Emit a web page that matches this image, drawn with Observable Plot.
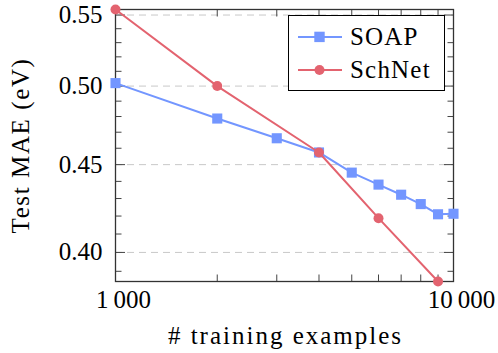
<!DOCTYPE html>
<html><head><meta charset="utf-8">
<script src="https://cdn.jsdelivr.net/npm/d3@7"></script>
<script src="https://cdn.jsdelivr.net/npm/@observablehq/plot@0.6"></script>
<style>
html,body{margin:0;padding:0;background:#fff;}
#wrap{position:relative;width:498px;height:353px;font-family:"Liberation Serif",serif;}
#legend{position:absolute;left:288px;top:15px;width:155px;height:74px;border:1.2px solid #000;background:#fff;}
.row{position:absolute;left:0;height:30px;display:flex;align-items:center;font-size:25px;color:#000;letter-spacing:1.2px;}
.row svg{margin-left:9px;margin-right:8px;}
</style></head><body><div id="wrap"></div>
<script>
const seriesNames = ["SOAP", "SchNet"];
const seriesColors = ["#7396ff", "#e3636f"];
const soapX = [1000, 2000, 3000, 4000, 5000, 6000, 7000, 8000, 9000, 10000];
const soapY = [0.502, 0.4787, 0.4662, 0.4574, 0.4452, 0.4381, 0.4322, 0.4268, 0.4210, 0.4213];
const schnetX = [1000, 2000, 4000, 6000, 9000];
const schnetY = [0.5541, 0.5000, 0.4574, 0.4188, 0.3847];
const yMajor = [0.40, 0.45, 0.50, 0.55];
const yMinor = [0.39, 0.41, 0.42, 0.43, 0.44, 0.46, 0.47, 0.48, 0.49, 0.51, 0.52, 0.53, 0.54];
const xMajor = [1000, 10000];
const xMinor = [2000, 3000, 4000, 5000, 6000, 7000, 8000, 9000];
const xLabel = "# training examples";
const yLabel = "Test MAE (eV)";

const soap = soapX.map((x, i) => ({x, y: soapY[i]}));
const schnet = schnetX.map((x, i) => ({x, y: schnetY[i]}));
const allY = soapY.concat(schnetY);
const tickColor = "#444";
const noText = () => "";
const fmtX = d => d3.format(",")(d).replace(",", "\u2009");

const chart = Plot.plot({
  width: 498, height: 353,
  marginLeft: 115, marginRight: 45, marginTop: 9, marginBottom: 72,
  x: {type: "log", domain: [d3.min(soapX), d3.max(soapX)]},
  y: {type: "log", domain: d3.extent(allY)},
  style: {fontFamily: "'Liberation Serif', serif", fontSize: "25px", color: "#000", background: "#fff", overflow: "visible"},
  marks: [
    Plot.gridY(yMajor, {stroke: "#c8c8c8", strokeOpacity: 1, strokeWidth: 1, strokeDasharray: "7,5"}),
    Plot.axisY(yMinor, {anchor: "left", tickSize: -6.5, tickFormat: noText, label: null, stroke: tickColor}),
    Plot.axisY(yMinor, {anchor: "right", tickSize: -6.5, tickFormat: noText, label: null, stroke: tickColor}),
    Plot.axisY(yMajor, {anchor: "left", tickSize: -10, tickFormat: noText, label: null, stroke: tickColor}),
    Plot.axisY(yMajor, {anchor: "right", tickSize: -10, tickFormat: noText, label: null, stroke: tickColor}),
    Plot.axisX(xMinor, {anchor: "bottom", tickSize: -6.5, tickFormat: noText, label: null, stroke: tickColor}),
    Plot.axisX(xMinor, {anchor: "top", tickSize: -6.5, tickFormat: noText, label: null, stroke: tickColor}),
    Plot.axisY(yMajor, {anchor: "left", tickSize: 0, tickPadding: 13, tickFormat: d => d.toFixed(2), label: null, fontSize: 25}),
    Plot.axisX(xMajor, {anchor: "bottom", tickSize: 0, tickPadding: 8.5, tickFormat: fmtX, label: null, fontSize: 25, dx: 8}),
    Plot.frame({stroke: "#333", strokeWidth: 1.3}),
    Plot.line(soap, {x: "x", y: "y", stroke: seriesColors[0], strokeWidth: 2}),
    Plot.dot(soap, {x: "x", y: "y", symbol: "square", r: 5.7, fill: seriesColors[0], stroke: null}),
    Plot.line(schnet, {x: "x", y: "y", stroke: seriesColors[1], strokeWidth: 2}),
    Plot.dot(schnet, {x: "x", y: "y", symbol: "circle", r: 5, fill: seriesColors[1], stroke: null}),
    Plot.text([xLabel], {frameAnchor: "bottom", lineAnchor: "bottom", dy: 62, dx: 1, fontSize: 25, fill: "#000"}),
    Plot.text([yLabel], {frameAnchor: "left", rotate: -90, textAnchor: "middle", dx: -95, fontSize: 25, fill: "#000"})
  ]
});
// widen the axis titles to approximate the reference's wider typeface
d3.select(chart).selectAll("text").each(function () {
  if (this.textContent === xLabel) this.style.letterSpacing = "2px";
  if (this.textContent === yLabel) this.style.letterSpacing = "1.6px";
});
const wrap = document.getElementById("wrap");
wrap.appendChild(chart);

// legend
const legend = document.createElement("div");
legend.id = "legend";
seriesNames.forEach((name, i) => {
  const row = document.createElement("div");
  row.className = "row";
  row.style.top = (6 + i * 33) + "px";
  const marker = i === 0
    ? `<rect x="16.3" y="9.7" width="10.4" height="10.4" fill="${seriesColors[i]}"/>`
    : `<circle cx="21.5" cy="15" r="5" fill="${seriesColors[i]}"/>`;
  row.innerHTML = `<svg width="44" height="30"><line x1="0" x2="44" y1="15" y2="15" stroke="${seriesColors[i]}" stroke-width="2"/>${marker}</svg><span>${name}</span>`;
  legend.appendChild(row);
});
wrap.appendChild(legend);
</script></body></html>
